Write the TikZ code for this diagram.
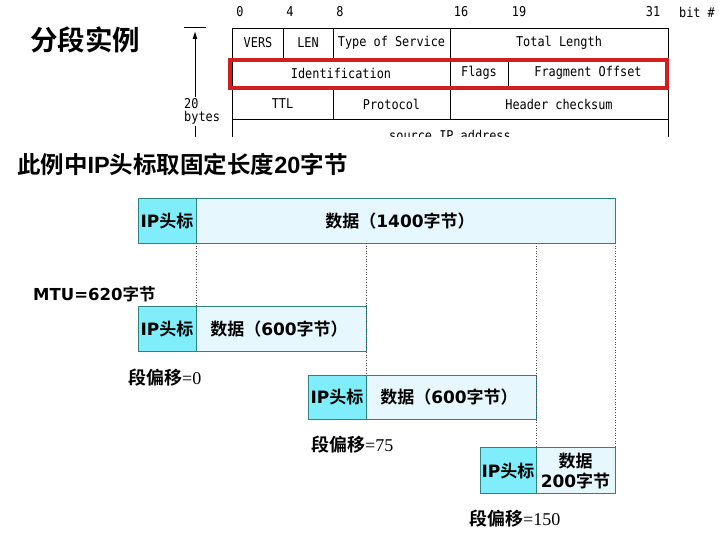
\documentclass[tikz,border=0pt]{standalone}
\usepackage{fontspec}
\newfontfamily\cjk{Noto Sans CJK SC}[BoldFont={Noto Sans CJK SC Bold}]
\newfontfamily\vb{DejaVu Sans}
\newfontfamily\lsb{Liberation Sans}
\newfontfamily\mono{DejaVu Sans Mono}[FakeStretch=0.88]
\newfontfamily\ser{Liberation Serif}
\definecolor{hdr}{RGB}{128,238,250}
\definecolor{dat}{RGB}{230,247,253}
\definecolor{bord}{RGB}{46,130,130}
\definecolor{redb}{RGB}{210,30,30}
\usetikzlibrary{arrows.meta}
\tikzset{
  tbl/.style={draw=black,line width=0.9pt},
  mt/.style={font=\mono\fontsize{13.5}{14}\selectfont,inner sep=0pt},
  hbox/.style={draw=bord,fill=hdr,line width=0.8pt},
  dbox/.style={draw=bord,fill=dat,line width=0.8pt},
  lab/.style={font=\fontsize{17}{20}\selectfont\bfseries,inner sep=0pt},
  off/.style={font=\fontsize{18}{20}\selectfont,inner sep=0pt,anchor=west},
  dotl/.style={draw=black!70,dotted,line width=0.6pt}
}
\begin{document}
\begin{tikzpicture}[x=1pt,y=-1pt]
\useasboundingbox (0,0) rectangle (720,540);
% title
\node[font=\cjk\bfseries\fontsize{27.5}{30}\selectfont,anchor=west,inner sep=0pt] (title) at (30,40) {分段实例};
% header table (clipped)
\begin{scope}
\clip (170,0) rectangle (720,137);
\draw[tbl] (232,28) -- (668,28);
\draw[tbl] (232,28) -- (232,140);
\draw[tbl] (668,28) -- (668,140);
\draw[tbl] (232,58) -- (668,58);
\draw[tbl] (232,88.5) -- (668,88.5);
\draw[tbl] (232,119) -- (668,119);
\draw[tbl] (283,28) -- (283,58);
\draw[tbl] (333,28) -- (333,58);
\draw[tbl] (450,28) -- (450,119);
\draw[tbl] (508,58) -- (508,88.5);
\draw[tbl] (333,88.5) -- (333,119);
\node[mt] (c1) at (258,43) {VERS};
\node[mt] (c2) at (308,43) {LEN};
\node[mt] (c3) at (391.5,43) {Type of Service};
\node[mt] (c4) at (559,43) {Total Length};
\node[mt] (c5) at (341,73) {Identification};
\node[mt] (c6) at (479,73) {Flags};
\node[mt] (c7) at (588,73) {Fragment Offset};
\node[mt] (c8) at (282.5,104) {TTL};
\node[mt] (c9) at (391.5,104) {Protocol};
\node[mt] (c10) at (559,104) {Header checksum};
\node[mt] (c11) at (450,135) {source IP address};
% 20 bytes arrow
\draw[line width=0.9pt] (184,27) -- (206,27);
\coordinate (atop) at (195,31);
\coordinate (abot) at (195,97);
\draw[line width=0.9pt,-{Latex[length=8pt,width=5pt]}] (abot) -- (atop);
\draw[line width=0.9pt] (195,126) -- (195,140);
\end{scope}
\draw[draw=redb,line width=3.5pt] (230,60) rectangle (667,88);
\node[mt,anchor=west] (b20) at (184,104) {20};
\node[mt,anchor=west] (bb) at (184,118) {bytes};
% bit numbers
\node[mt] (n0) at (240,12) {0};
\node[mt] (n4) at (290,12) {4};
\node[mt] (n8) at (340,12) {8};
\node[mt] (n16) at (461,12) {16};
\node[mt] (n19) at (519,12) {19};
\node[mt] (n31) at (653,12) {31};
\node[mt] (nb) at (697,12) {bit \#};
% subtitle
\node[font=\fontsize{23.5}{26}\selectfont\bfseries,anchor=west,inner sep=0pt] (sub) at (17,164) {{\cjk 此例中}{\lsb IP}{\cjk 头标取固定长度}{\lsb 20}{\cjk 字节}};
% box 1
\draw[hbox] (138,198) rectangle (196,243);
\draw[dbox] (196,198) rectangle (615,243);
\node[lab] (h1) at (167,221) {{\vb IP}{\cjk 头标}};
\node[lab] (d1) at (400,221) {{\cjk 数据（}{\vb 1400}{\cjk 字节）}};
% MTU
\node[font=\fontsize{16.5}{19}\selectfont\bfseries,anchor=west,inner sep=0pt] (mtu) at (33,294) {{\vb MTU=620}{\cjk 字节}};
% box 2
\draw[hbox] (138,306) rectangle (196,351);
\draw[dbox] (196,306) rectangle (366,351);
\node[lab] (h2) at (167,329) {{\vb IP}{\cjk 头标}};
\node[lab] (d2) at (279,329) {{\cjk 数据（}{\vb 600}{\cjk 字节）}};
\node[off] (o1) at (128,378) {{\cjk\bfseries 段偏移}{\ser =0}};
% box 3
\draw[hbox] (308,375) rectangle (366,419);
\draw[dbox] (366,375) rectangle (536,419);
\node[lab] (h3) at (337,397) {{\vb IP}{\cjk 头标}};
\node[lab] (d3) at (449,397) {{\cjk 数据（}{\vb 600}{\cjk 字节）}};
\node[off] (o2) at (311,445) {{\cjk\bfseries 段偏移}{\ser =75}};
% box 4
\draw[hbox] (480,447) rectangle (536,493);
\draw[dbox] (536,447) rectangle (615,493);
\node[lab] (h4) at (508,471) {{\vb IP}{\cjk 头标}};
\node[lab,align=center] (d4) at (575.5,471) {{\cjk 数据}\\{\vb 200}{\cjk 字节}};
\node[off] (o3) at (469,519) {{\cjk\bfseries 段偏移}{\ser =150}};
% dotted guide lines
\draw[dotl] (196,243) -- (196,306);
\draw[dotl] (366,243) -- (366,375);
\draw[dotl] (536,243) -- (536,447);
\draw[dotl] (615,243) -- (615,447);
\end{tikzpicture}
\end{document}
